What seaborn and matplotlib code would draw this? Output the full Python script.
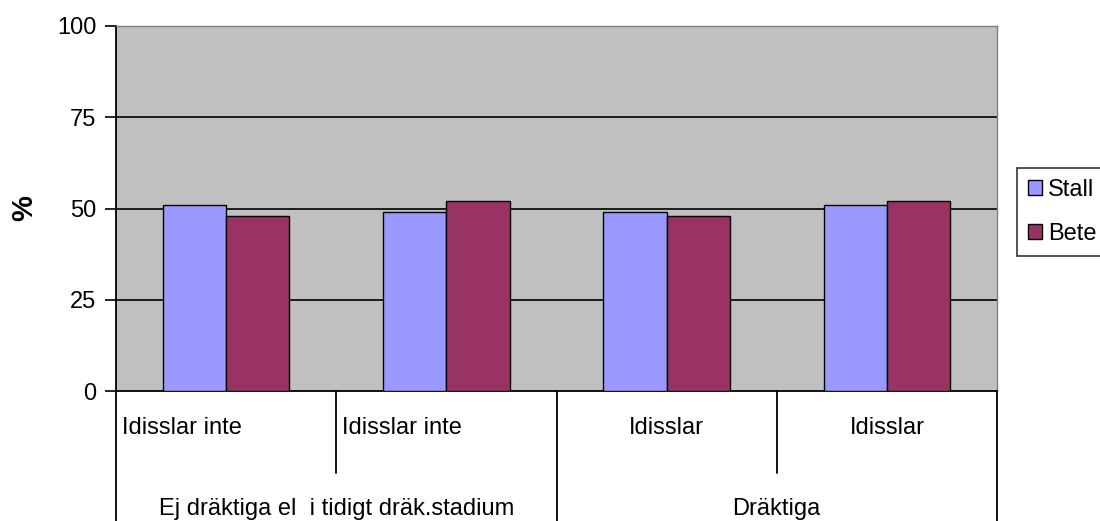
import matplotlib
matplotlib.use("Agg")
import matplotlib.pyplot as plt
import matplotlib.transforms as mtransforms
import pandas as pd
import seaborn as sns

# Data
groups = ["Ej dräktiga el  i tidigt dräk.stadium", "Dräktiga"]
sub_labels = ["Idisslar inte", "Idisslar inte", "Idisslar", "Idisslar"]
group_of_cat = [0, 0, 1, 1]
series = ["Stall", "Bete"]
stall = [51, 49, 49, 51]
bete = [48, 52, 48, 52]
yticks = [0, 25, 50, 75, 100]

colors = {"Stall": "#9999FF", "Bete": "#993366"}

cat_keys = [f"{groups[g]} / {s} ({i + 1})" for i, (g, s) in enumerate(zip(group_of_cat, sub_labels))]
df = pd.DataFrame({
    "kategori": cat_keys * 2,
    "serie": ["Stall"] * 4 + ["Bete"] * 4,
    "procent": stall + bete,
})

sns.set_theme(style="white", rc={"text.color": "black", "axes.labelcolor": "black",
                                 "xtick.color": "black", "ytick.color": "black",
                                 "ytick.left": True})
plt.rcParams["font.family"] = ["Liberation Sans", "DejaVu Sans"]

FS = 17

fig = plt.figure(figsize=(11, 5.21), dpi=100)
ax = fig.add_axes([116 / 1100, 130 / 521, 881 / 1100, 365 / 521])
ax.set_facecolor("#C0C0C0")

sns.barplot(data=df, x="kategori", y="procent", hue="serie", order=cat_keys,
            hue_order=series, palette=colors, saturation=1, width=0.575, gap=0,
            edgecolor="black", linewidth=1.0, ax=ax, legend=True, zorder=3)

ax.set_xlim(-0.5, 3.5)
ax.set_ylim(0, 100)
ax.set_yticks(yticks)
ax.set_yticklabels([str(v) for v in yticks], fontsize=FS)
ax.set_xticks([])
ax.set_xlabel("")
ax.set_ylabel("%", fontsize=21, fontweight="bold")
ax.yaxis.set_label_coords(-78 / 881, 0.5)

# horizontal gridlines
for v in yticks[1:-1]:
    ax.axhline(v, color="black", lw=1.2, zorder=1)

ax.tick_params(axis="y", left=True, direction="out", length=8, width=1.2,
               color="black", labelcolor="black", pad=6)
for side in ["left", "bottom"]:
    ax.spines[side].set_color("black")
    ax.spines[side].set_linewidth(1.3)
for side in ["top", "right"]:
    ax.spines[side].set_color("#808080")
    ax.spines[side].set_linewidth(1.0)

# multi-level category axis
tr = mtransforms.blended_transform_factory(ax.transData, ax.transAxes)
full = -130 / 365
short = -82 / 365
for xb, depth in [(-0.5, full), (0.5, short), (1.5, full), (2.5, short), (3.5, full)]:
    ax.plot([xb, xb], [0, depth], color="black", lw=1.3, transform=tr, clip_on=False)

for i, lab in enumerate(sub_labels):
    if group_of_cat[i] == 0:
        ax.text(i - 0.5 + 0.025, -37 / 365, lab, transform=tr, ha="left", va="center",
                fontsize=FS, color="black")
    else:
        ax.text(i, -37 / 365, lab, transform=tr, ha="center", va="center",
                fontsize=FS, color="black")

for g, name in enumerate(groups):
    members = [i for i, gg in enumerate(group_of_cat) if gg == g]
    xc = (members[0] + members[-1]) / 2
    ax.text(xc, -118 / 365, name, transform=tr, ha="center", va="center",
            fontsize=FS, color="black")

# legend
handles, labels = ax.get_legend_handles_labels()
leg = ax.legend(handles, labels, loc="center left", bbox_to_anchor=(1017 / 1100, (521 - 212) / 521),
                bbox_transform=fig.transFigure, frameon=True, fontsize=FS,
                handlelength=0.6, handleheight=0.6, handletextpad=0.25,
                borderpad=0.45, labelspacing=0.95, fancybox=False, borderaxespad=0)
leg.get_frame().set_edgecolor("black")
leg.get_frame().set_linewidth(1.2)
for t in leg.get_texts():
    t.set_color("black")

fig.savefig("out.png", dpi=100)
